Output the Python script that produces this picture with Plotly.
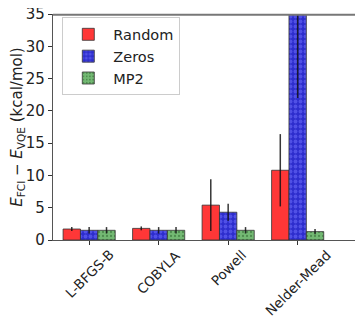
import plotly.graph_objects as go

categories = ["L-BFGS-B", "COBYLA", "Powell", "Nelder-Mead"]
random_vals = [1.7, 1.8, 5.4, 10.8]
random_err = [0.3, 0.3, 4.0, 5.6]
zeros_vals = [1.5, 1.5, 4.3, 48.0]
zeros_err = [0.5, 0.5, 1.3, 26.0]
mp2_vals = [1.5, 1.5, 1.5, 1.3]
mp2_err = [0.5, 0.5, 0.5, 0.4]

series = [
    ("Random", random_vals, random_err, "rgb(255,55,55)", None),
    ("Zeros", zeros_vals, zeros_err, "rgb(60,60,230)", dict(shape=".", fgcolor="rgb(115,115,255)", bgcolor="rgb(45,45,205)", size=5, solidity=0.45)),
    ("MP2", mp2_vals, mp2_err, "rgb(110,180,110)", dict(shape=".", fgcolor="rgb(40,95,40)", bgcolor="rgb(115,185,115)", size=4, solidity=0.25)),
]

fig = go.Figure()
for name, vals, errs, color, pat in series:
    marker = dict(color=color, line=dict(color="#333", width=0.8))
    if pat:
        marker["pattern"] = pat
    fig.add_trace(go.Bar(
        x=categories, y=vals, name=name, marker=marker,
        error_y=dict(type="data", array=errs, visible=True, width=0, thickness=1.5, color="rgba(20,20,20,0.85)"),
    ))

for c in categories:
    fig.add_annotation(x=c, y=0, xref="x", yref="paper", text=c, showarrow=False,
                       textangle=-45, xanchor="center", yanchor="top", yshift=-4,
                       font=dict(size=13.5, color="#222"))

# top frame line
fig.add_shape(type="line", xref="paper", yref="paper", x0=0, x1=1, y0=0.997, y1=0.997,
              line=dict(color="#777", width=2), layer="above")

# page body adds an 8px offset, so the figure is sized/margined to compensate
fig.update_layout(
    width=355, height=314,
    margin=dict(l=45, r=0, t=6, b=82),
    barmode="group", bargap=0.25, bargroupgap=0,
    plot_bgcolor="white", paper_bgcolor="white",
    font=dict(family="DejaVu Sans", size=15, color="#222"),
    legend=dict(x=0.03, y=0.985, xanchor="left", yanchor="top",
                bordercolor="#ccc", borderwidth=1, bgcolor="rgba(255,255,255,0.8)",
                font=dict(size=14.5), tracegroupgap=0, itemwidth=40),
)
fig.update_xaxes(range=[-0.52, 3.94], showline=True, linecolor="#555", linewidth=1.2,
                 ticks="outside", ticklen=4, tickcolor="#333", showticklabels=False, showgrid=False,
                 automargin=False)
fig.update_yaxes(range=[0, 35], dtick=5, showline=True, linecolor="#555", linewidth=1.2,
                 ticks="outside", ticklen=4, tickcolor="#333", showgrid=False, zeroline=False,
                 tickfont=dict(size=15), automargin=False, ticklabeloverflow="allow",
                 title=dict(text="<i>E</i><sub>FCI</sub> − <i>E</i><sub>VQE</sub> (kcal/mol)", font=dict(size=15), standoff=6))

fig.write_html("out.html")
